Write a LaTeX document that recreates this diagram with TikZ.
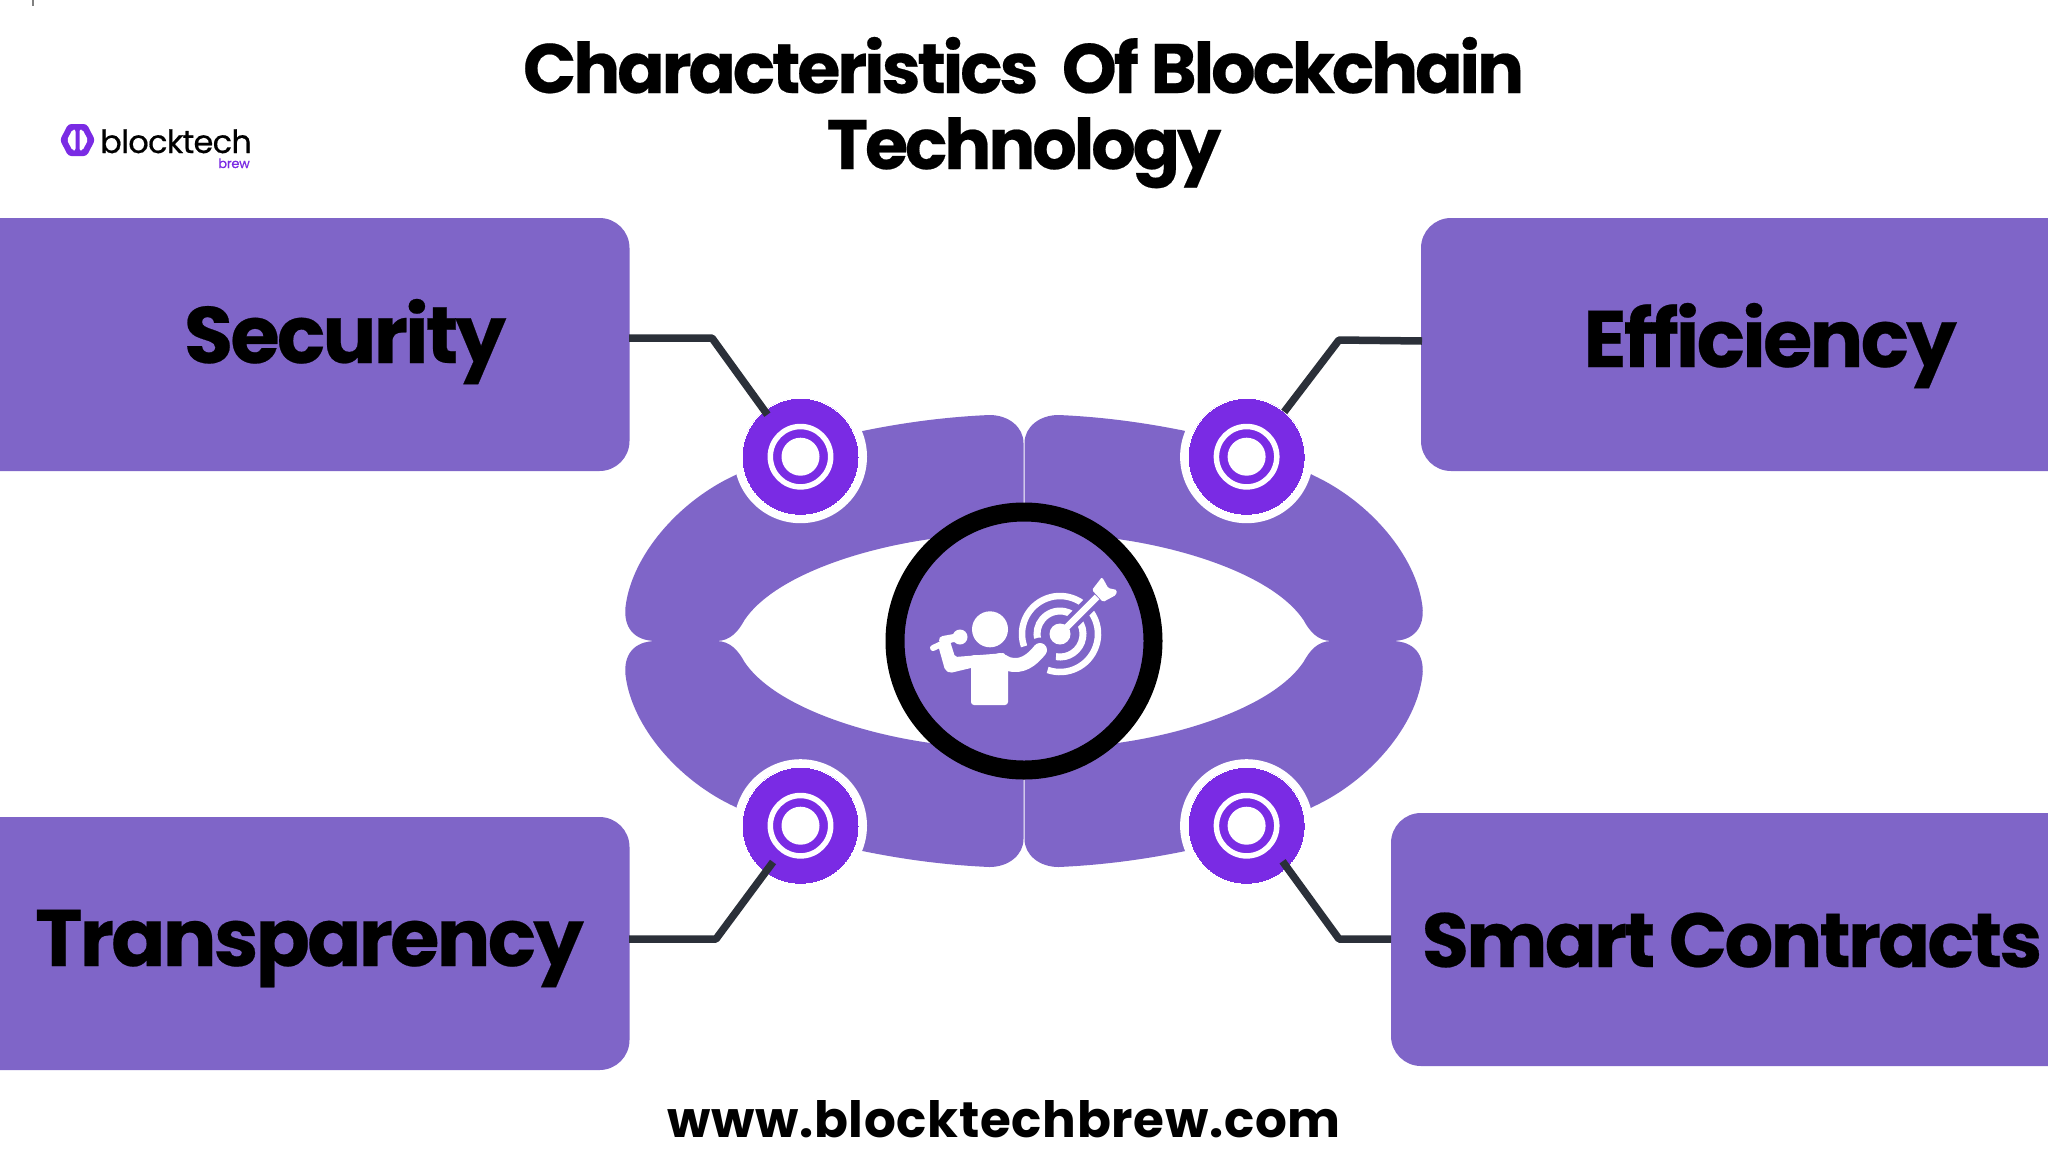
\documentclass[tikz,border=0pt]{standalone}
\usepackage{fontspec}
\usetikzlibrary{calc}
\setmainfont{Poppins}
\newfontfamily\tightbold[LetterSpace=-3.5,Ligatures=NoCommon,BoldFeatures={FakeBold=0.3}]{Poppins}
\newfontfamily\titlebold[LetterSpace=-4.5,Ligatures=NoCommon,BoldFeatures={FakeBold=0.3}]{Poppins}
\newfontfamily\logofont[LetterSpace=-2.2,FakeBold=0.5]{Poppins}
\newfontfamily\urlfont[LetterSpace=1.4]{Poppins}
\definecolor{boxpurple}{HTML}{7F65C8}
\definecolor{dotpurple}{HTML}{7A2BE4}
\definecolor{wire}{HTML}{2B3039}
\tikzset{
  wireline/.style={draw=wire,line width=7.5pt,line join=round},
  dotnode/.style={circle,fill=dotpurple,minimum size=117pt,inner sep=0pt,draw=white,line width=0pt},
  boxlabel/.style={inner sep=0pt,anchor=base,font=\tightbold\bfseries\fontsize{80}{84}\selectfont,text=black},
  titleline/.style={inner sep=0pt,anchor=base,font=\titlebold\bfseries\fontsize{70}{74}\selectfont,text=black},
  quarter/.pic={
    \fill[boxpurple] (0,0) -- (0,-198) .. controls (0,-214) and (-15,-226) .. (-34,-226)
      .. controls (-80,-224) and (-122,-218) .. (-161,-210)
      .. controls (-210,-200) and (-250,-190) .. (-288,-166)
      .. controls (-345,-140) and (-392,-85) .. (-398,-34)
      .. controls (-400,-14) and (-390,0) .. (-367,0)
      -- (-307,0) .. controls (-293,0) and (-285,-10) .. (-279,-21)
      .. controls (-250,-64) and (-165,-92) .. (-93,-102) -- (0,-110) -- cycle;
  }
}
\begin{document}
\begin{tikzpicture}[x=1pt,y=-1pt]
\useasboundingbox (0,0) rectangle (2048,1152);
\fill[white] (0,0) rectangle (2048,1152);
\fill[gray] (32,0) rectangle (33.5,6);
% title
\node[titleline] (titlea) at (1023.5,93) {Characteristics\ \ Of Blockchain};
\node[titleline] (titleb) at (1024,169) {Technology};
% boxes
\fill[boxpurple] (0,218) [rounded corners=30pt] -- (629.5,218) -- (629.5,471) [sharp corners] -- (0,471) -- cycle;
\fill[boxpurple] (2048,218) [rounded corners=30pt] -- (1421,218) -- (1421,471) [sharp corners] -- (2048,471) -- cycle;
\fill[boxpurple] (0,817) [rounded corners=30pt] -- (629.5,817) -- (629.5,1070) [sharp corners] -- (0,1070) -- cycle;
\fill[boxpurple] (2048,813) [rounded corners=30pt] -- (1391,813) -- (1391,1066) [sharp corners] -- (2048,1066) -- cycle;
\node[boxlabel] (lsec) at (345,363) {Security};
\node[boxlabel] (leff) at (1770,367) {Efficiency};
\node[boxlabel] (ltra) at (309.5,966) {Transparency};
\node[boxlabel,font=\tightbold\bfseries\fontsize{76.6}{80}\selectfont] (lsma) at (1732,967) {Smart Contracts};
\coordinate (psec) at (629,338);
\coordinate (peff) at (1422,341);
\coordinate (ptra) at (629,939);
\coordinate (psma) at (1391,939);
\coordinate (bsec) at (712,338);
\coordinate (beff) at (1339,340);
\coordinate (btra) at (716,939);
\coordinate (bsma) at (1339,939);
% quarter shapes
\pic[xscale=1,yscale=-1] at (1023.5,641) {quarter};
\pic[xscale=-1,yscale=-1] at (1024.5,641) {quarter};
\pic[xscale=1,yscale=1] at (1023.5,641) {quarter};
\pic[xscale=-1,yscale=1] at (1024.5,641) {quarter};
% white halos and dots
\foreach \hx/\hy in {800.5/456.7,1246.6/456.7,800.5/825.7,1246.6/825.7}
  \fill[white] (\hx,\hy) circle[radius=66.5];
\node[dotnode] (dsec) at (800.5,456.7) {};
\node[dotnode] (deff) at (1246.6,456.7) {};
\node[dotnode] (dtra) at (800.5,825.7) {};
\node[dotnode] (dsma) at (1246.6,825.7) {};
\foreach \d in {dsec,deff,dtra,dsma}{
  \draw[white,line width=5.5pt] (\d.center) circle[radius=30.2];
  \fill[white] (\d.center) circle[radius=19];
}
% connectors
\draw[wireline,shorten >=-5pt] (psec) -- (bsec) -- (dsec.128);
\draw[wireline] (peff) -- (beff) -- (deff.50);
\draw[wireline,shorten >=-13pt] (ptra) -- (btra) -- (dtra.233);
\draw[wireline,shorten >=-8pt] (psma) -- (bsma) -- (dsma.314);
% hub
\node[circle,draw=black,line width=19pt,fill=boxpurple,minimum size=258pt,inner sep=0pt] (hub) at (1024,641) {};
% icon
\coordinate (tc) at (1060,634);
\draw[white,line width=6.5pt] ($(tc)+(-251:38)$) arc[start angle=-251,end angle=-559,radius=38];
\draw[white,line width=7pt] ($(tc)+(-260:23)$) arc[start angle=-260,end angle=-555,radius=23];
\draw[boxpurple,line width=15pt] (tc) -- (1098,596);
\fill[white] (tc) circle[radius=10.5];
\draw[white,line width=6.5pt] (tc) -- (1097,597);
\fill[white,rounded corners=1.5pt] (1092,590) -- (1102,577) -- (1106,584) -- (1108,588) -- (1117,590) -- (1116,595) -- (1103,602) -- cycle;
\draw[boxpurple,line width=25pt,line cap=round] (1004,665) .. controls (1022,668) and (1032,660) .. (1040,650);
\fill[white] (990,629.3) circle[radius=18];
\fill[white,rounded corners=3pt] (971,655) -- (971,705) -- (1008,705) -- (1008,655) -- cycle;
\draw[white,line width=14pt,line cap=round,line join=round] (1000,660) -- (1008,664) .. controls (1022,668) and (1032,660) .. (1040,650);
\fill[white,rounded corners=2pt] (1005,653) -- (955,657) -- (950,641) -- (938,645) -- (945,670) -- (950,673) -- (975,667) -- (1005,668) -- cycle;
\draw[white,line width=6pt,line cap=round] (933,648) -- (950,640);
\draw[white,line width=8pt,line cap=round] (943,640) -- (954,638);
\fill[white] (960,637) circle[radius=7.5];
% logo
\fill[dotpurple,rounded corners=3pt] (60,140) -- (68.3,124) -- (86.7,124) -- (95,140) -- (86.7,156) -- (68.3,156) -- cycle;
\fill[white,rounded corners=2pt] (67,140) -- (72.5,129.5) -- (75.5,129.5) -- (75.5,150.5) -- (72.5,150.5) -- cycle;
\fill[white,rounded corners=2pt] (88,140) -- (82.5,129.5) -- (79.5,129.5) -- (79.5,150.5) -- (82.5,150.5) -- cycle;
\node[inner sep=0pt,anchor=base west,font=\logofont\fontsize{32}{34}\selectfont,text=black] (logoa) at (100,153) {blocktech};
\node[inner sep=0pt,anchor=base east,font=\logofont\fontsize{13}{15}\selectfont,text=dotpurple] (logob) at (250,168) {brew};
% url
\node[inner sep=0pt,font=\urlfont\bfseries\fontsize{50}{54}\selectfont,text=black] (url) at (1004,1119) {www.blocktechbrew.com};
\end{tikzpicture}
\end{document}
